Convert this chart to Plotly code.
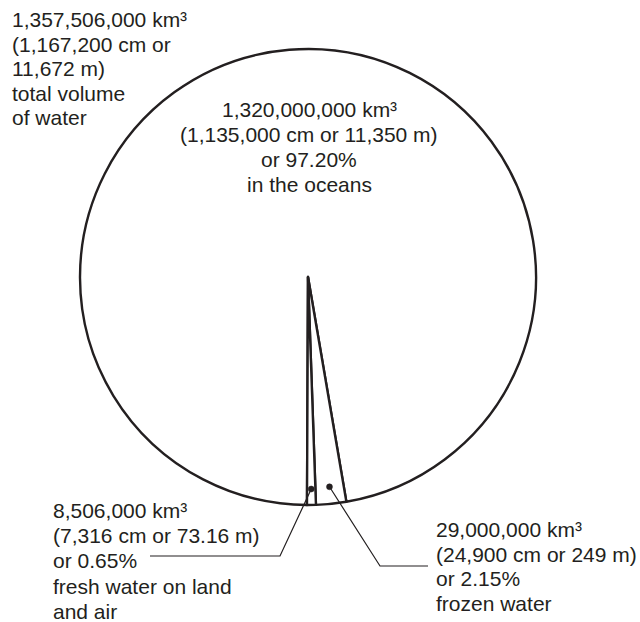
import math
import plotly.graph_objects as go

# Global water volume split into three reservoirs (km^3)
categories = ["in the oceans", "frozen water", "fresh water on land and air"]
volumes_km3 = [1_320_000_000, 29_000_000, 8_506_000]

total_lines = ["1,357,506,000 km³", "(1,167,200 cm or", "11,672 m)",
               "total volume", "of water"]
ocean_lines = ["1,320,000,000 km³", "(1,135,000 cm or 11,350 m)",
               "or 97.20%", "in the oceans"]
fresh_lines = ["8,506,000 km³", "(7,316 cm or 73.16 m)", "or 0.65%",
               "fresh water on land", "and air"]
frozen_lines = ["29,000,000 km³", "(24,900 cm or 249 m)", "or 2.15%",
                "frozen water"]

W, H = 640, 622
CX, CY, R = 308, 277, 228          # pie centre and radius in pixels
SPLIT_DEG = 178                    # clockwise angle of the frozen/fresh border
INK = "#231f20"
FONT = "Liberation Sans, Arial, Helvetica, sans-serif"
FS = 21

total = sum(volumes_km3)
deg = [360 * v / total for v in volumes_km3]
ocean_deg, frozen_deg, fresh_deg = deg
rotation = SPLIT_DEG + fresh_deg   # slices run clockwise: oceans, frozen, fresh

fig = go.Figure()
fig.add_trace(go.Pie(
    labels=categories,
    values=volumes_km3,
    sort=False,
    direction="clockwise",
    rotation=rotation,
    marker=dict(colors=["white"] * 3, line=dict(color=INK, width=2.4)),
    textinfo="none",
    hoverinfo="label+value",
    showlegend=False,
    domain=dict(x=[(CX - R) / W, (CX + R) / W],
                y=[1 - (CY + R) / H, 1 - (CY - R) / H]),
))


def polar(angle_deg, radius):
    a = math.radians(angle_deg)
    return CX + radius * math.sin(a), CY - radius * math.cos(a)


# small dots inside the two narrow slices, with elbowed leader lines
fresh_dot = polar(SPLIT_DEG + fresh_deg / 2, 0.93 * R)
frozen_dot = polar(SPLIT_DEG - frozen_deg / 2, 0.925 * R)

leaders = [
    [fresh_dot, (280, 556), (150, 556)],
    [frozen_dot, (380, 566), (428, 566)],
]

shapes = []
for pts in leaders:
    path = "M " + " L ".join(f"{px:.2f},{py:.2f}" for px, py in pts)
    shapes.append(dict(type="path", path=path, xref="x", yref="y",
                       line=dict(color=INK, width=1.2), layer="above"))
for dx, dy in (fresh_dot, frozen_dot):
    shapes.append(dict(type="circle", xref="x", yref="y",
                       x0=dx - 3, x1=dx + 3, y0=dy - 3, y1=dy + 3,
                       fillcolor=INK, line=dict(color=INK, width=0.5),
                       layer="above"))

annotations = []


def block(lines, x, y0, step, align):
    for i, t in enumerate(lines):
        annotations.append(dict(
            text=t, x=x, y=y0 + i * step, xref="x", yref="y",
            xanchor=align, yanchor="middle", showarrow=False,
            font=dict(family=FONT, size=FS, color=INK),
        ))


block(total_lines, 10, 19.5, 24.6, "left")
block(ocean_lines, 309, 109, 25, "center")
block(fresh_lines, 51, 510.5, 25.2, "left")
block(frozen_lines, 434, 529.7, 24.5, "left")

fig.update_layout(
    width=W, height=H,
    margin=dict(l=0, r=0, t=0, b=0),
    paper_bgcolor="white", plot_bgcolor="white",
    xaxis=dict(range=[0, W], visible=False, fixedrange=True),
    yaxis=dict(range=[H, 0], visible=False, fixedrange=True),
    shapes=shapes,
    annotations=annotations,
)

fig.write_html("out.html")
